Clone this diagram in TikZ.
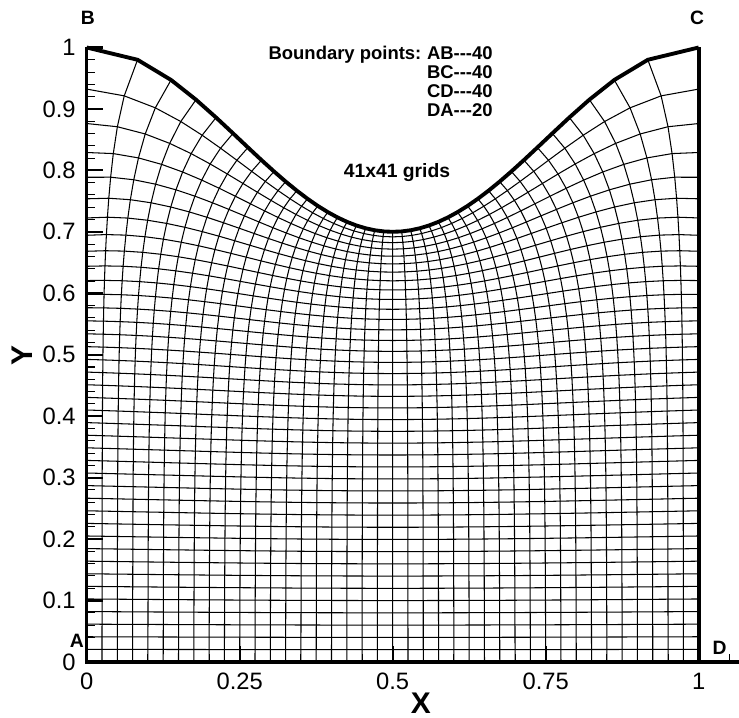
\documentclass[tikz,border=0pt]{standalone}
\usepackage{fontspec}
\setmainfont{Liberation Sans}
\usetikzlibrary{positioning}

\tikzset{
  gridline/.style={line width=0.6pt},
  wallline/.style={line width=2.2pt, line join=round},
  axisline/.style={line width=2pt},
  majortick/.style={line width=1.2pt},
  minortick/.style={line width=0.6pt},
  ticklbl/.style={inner sep=0pt, font=\fontsize{13.5}{15}\selectfont},
  cornerlbl/.style={inner sep=0pt, font=\fontsize{11}{13}\selectfont\bfseries},
  notelbl/.style={inner sep=0pt, font=\fontsize{10.5}{12}\selectfont\bfseries},
  axislbl/.style={inner sep=0pt, font=\fontsize{17}{19}\selectfont\bfseries}
}

% 41x41 grid: x and y harmonic in index space, boundary points fixed
\newcount\gi \newcount\gj \newcount\gk \newcount\gridit \newcount\uxsp
\newdimen\gdim
\def\ux{348.26}\def\uy{349.68}
\gdim=\ux pt \uxsp=\gdim
\foreach \i in {0,...,40}{%
  \pgfmathsetmacro\gs{min(\i,40-\i)/40}%
  \pgfmathsetmacro\gX{0.515*\gs+3.76*\gs/(1+\gs/0.074)}%
  \ifnum\i>20 \pgfmathsetmacro\gX{1-\gX}\fi
  \pgfmathsetlength\gdim{\gX*\ux}%
  \global\count\numexpr10500+\i\relax=\gdim
  \pgfmathsetlength\gdim{0.85+0.15*cos(360*\gX)}%
  \global\count\numexpr10600+\i\relax=\gdim
  \pgfmathsetlength\gdim{(0.82*\i/40+0.18*(\i/40)^12)*\uy}%
  \global\count\numexpr10700+\i\relax=\gdim
}
\foreach \j in {0,...,40}{\foreach \i in {0,...,40}{%
  \global\count\numexpr11000+41*\j+\i\relax=\numexpr\uxsp*\i/40+(\count\numexpr10500+\i\relax-\uxsp*\i/40)*\j/40\relax
  \global\count\numexpr13000+41*\j+\i\relax=\numexpr\count\numexpr10700+\j\relax*\count\numexpr10600+\i\relax/65536\relax
}}
\def\gridrow{%
  \gk=\numexpr11000+41*\gj+\gi\relax
  \count\gk=\numexpr\count\gk+(\count\numexpr\gk-1\relax+\count\numexpr\gk+1\relax+\count\numexpr\gk-41\relax+\count\numexpr\gk+41\relax-4*\count\gk)*37/80\relax
  \advance\gk2000
  \count\gk=\numexpr\count\gk+(\count\numexpr\gk-1\relax+\count\numexpr\gk+1\relax+\count\numexpr\gk-41\relax+\count\numexpr\gk+41\relax-4*\count\gk)*37/80\relax
  \advance\gi1
  \ifnum\gi<40 \expandafter\gridrow\fi}
\def\gridcols{\gi=1 \gridrow\advance\gj1 \ifnum\gj<40 \expandafter\gridcols\fi}
\def\gridsolve{\ifnum\gridit>0 \gj=1 \gridcols\advance\gridit-1 \expandafter\gridsolve\fi}
\gridit=120 \gridsolve

\def\gridskip#1{}
\newcommand\gridrowpath[1]{\def\rowpath{}\gi=0 \gridrowstep{#1}}
\def\gridrowstep#1{%
  \edef\rowpath{\rowpath\ifnum\gi>0 --\fi(\the\dimexpr\count\numexpr11000+41*#1+\gi\relax sp\relax,\the\dimexpr\count\numexpr13000+41*#1+\gi\relax sp\relax)}%
  \advance\gi1
  \ifnum\gi<41 \expandafter\gridrowstep\else\expandafter\gridskip\fi{#1}}
\newcommand\gridcolpath[1]{\def\colpath{}\gj=0 \gridcolstep{#1}}
\def\gridcolstep#1{%
  \edef\colpath{\colpath\ifnum\gj>0 --\fi(\the\dimexpr\count\numexpr11000+41*\gj+#1\relax sp\relax,\the\dimexpr\count\numexpr13000+41*\gj+#1\relax sp\relax)}%
  \advance\gj1
  \ifnum\gj<41 \expandafter\gridcolstep\else\expandafter\gridskip\fi{#1}}
\def\dashes{-\kern0pt-\kern0pt-}

\begin{document}
\begin{tikzpicture}[x=12.24cm, y=12.29cm]
  \useasboundingbox (-0.1417,-0.0911) rectangle (1.0659,1.0773);
  \coordinate (A) at (0,0);
  \coordinate (B) at (0,1);
  \coordinate (C) at (1,1);
  \coordinate (D) at (1,0);
  \coordinate (xend) at (1.0659,0);

  \foreach \j in {0,...,39}{\gridrowpath{\j}\edef\gridcmd{\noexpand\draw[gridline] \rowpath;}\gridcmd}
  \foreach \i in {1,...,39}{\gridcolpath{\i}\edef\gridcmd{\noexpand\draw[gridline] \colpath;}\gridcmd}
  \gridrowpath{40}\edef\gridcmd{\noexpand\draw[wallline] \rowpath;}\gridcmd
  \draw[wallline] (C) -- (D);
  \draw[axisline] (B) -- (A) -- (xend);

  \foreach \k in {1,...,21}{\draw[minortick] (\k/20,0) -- ++(0,0.16cm);}
  \foreach \k in {1,...,3}{\draw[majortick] (\k/4,0) -- ++(0,0.32cm);}
  \foreach \k in {1,...,49}{\draw[minortick] (0,\k/50) -- ++(0.16cm,0);}
  \foreach \k in {1,...,10}{\draw[majortick] (0,\k/10) -- ++(0.32cm,0);}

  \foreach \v [count=\n] in {0,0.25,0.5,0.75,1}
    \node[ticklbl, anchor=north] (xlbl\n) at (\v,-0.018) {\v};
  \foreach \v [count=\n] in {0,0.1,0.2,0.3,0.4,0.5,0.6,0.7,0.8,0.9,1}
    \node[ticklbl, anchor=east] (ylbl\n) at (-0.0175,\v) {\v};
  \node[axislbl] (xname) at (0.546,-0.0667) {X};
  \node[axislbl, rotate=90] (yname) at (-0.1057,0.498) {Y};

  \node[cornerlbl] (lblA) at (-0.016,0.034) {A};
  \node[cornerlbl] (lblB) at (0.002,1.048) {B};
  \node[cornerlbl] (lblC) at (0.9973,1.048) {C};
  \node[cornerlbl] (lblD) at (1.034,0.0228) {D};

  \node[notelbl, anchor=base east] (bpts) at (0.5474,0.9808) {Boundary points:};
  \node[notelbl, right=0.1cm of bpts.base east, anchor=base west] (ab) {AB\dashes40};
  \node[notelbl, below=0.38cm of ab.base west, anchor=base west] (bc) {BC\dashes40};
  \node[notelbl, below=0.38cm of bc.base west, anchor=base west] (cd) {CD\dashes40};
  \node[notelbl, below=0.38cm of cd.base west, anchor=base west] (da) {DA\dashes20};
  \node[notelbl, font=\fontsize{11}{13}\selectfont\bfseries, anchor=base] (gridsz) at (0.507,0.7876) {41x41 grids};
\end{tikzpicture}
\end{document}
